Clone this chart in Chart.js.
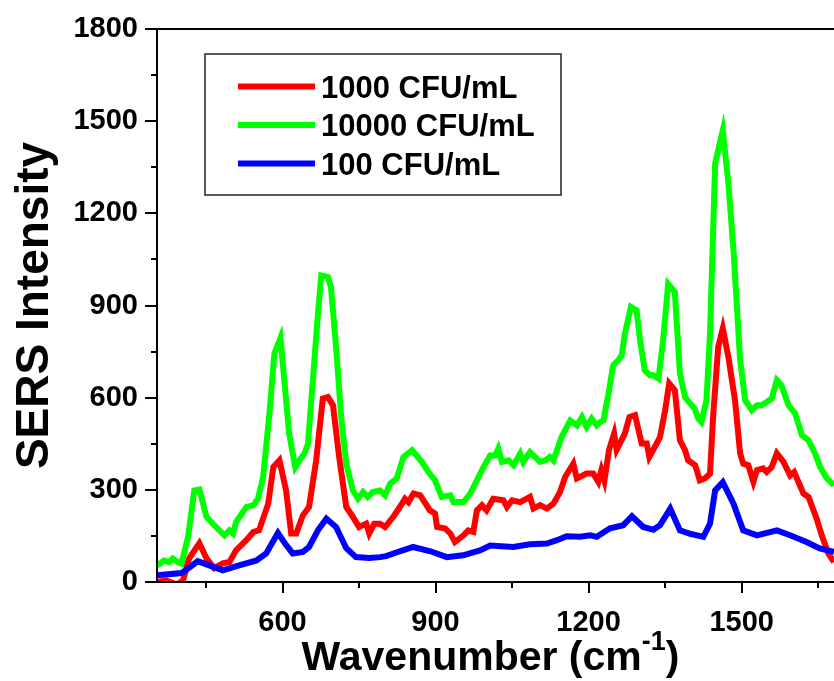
<!DOCTYPE html>
<html>
<head>
<meta charset="utf-8">
<script src="https://cdn.jsdelivr.net/npm/chart.js@4.4.1/dist/chart.umd.min.js"></script>
<style>
    html, body { margin: 0; padding: 0; background: #fff; overflow: hidden; }
    #chart { display: block; }
</style>
</head>
<body>
<canvas id="chart" width="834" height="681"></canvas>
<script>
// --- DATA ---

const FONT = '"Liberation Sans", Arial, sans-serif';

const LABEL_1000 = '1000 CFU/mL';
const LABEL_10000 = '10000 CFU/mL';
const LABEL_100 = '100 CFU/mL';

const wn1000 = [354, 372, 392, 405, 417, 437, 451, 466, 483, 496, 509, 529, 543, 554, 572, 582, 594, 607, 617, 627, 640, 652, 666, 679, 689, 699, 711, 725, 738, 750, 764, 770, 780, 791, 801, 817, 830, 840, 847, 857, 870, 889, 899, 903, 919, 929, 938, 955, 964, 974, 981, 991, 1000, 1013, 1033, 1040, 1050, 1066, 1085, 1092, 1105, 1118, 1131, 1144, 1154, 1170, 1177, 1196, 1209, 1219, 1225, 1231, 1240, 1250, 1255, 1271, 1280, 1291, 1304, 1314, 1319, 1330, 1340, 1350, 1358, 1369, 1379, 1389, 1395, 1409, 1418, 1428, 1438, 1444, 1454, 1463, 1474, 1487, 1497, 1503, 1513, 1523, 1530, 1542, 1549, 1559, 1569, 1582, 1595, 1603, 1621, 1631, 1647, 1657, 1670, 1681];
const int1000 = [0, 5, -8, 5, 77, 126, 77, 45, 61, 65, 103, 136, 163, 168, 255, 374, 396, 298, 158, 158, 217, 244, 396, 597, 602, 575, 407, 244, 212, 179, 190, 158, 190, 190, 179, 212, 244, 271, 260, 288, 282, 233, 223, 179, 174, 158, 130, 152, 168, 163, 233, 250, 233, 271, 266, 244, 266, 260, 277, 239, 250, 239, 255, 293, 342, 385, 337, 353, 353, 326, 364, 330, 430, 483, 430, 483, 537, 543, 451, 451, 407, 440, 472, 559, 646, 624, 461, 429, 396, 380, 331, 337, 353, 537, 765, 825, 732, 591, 419, 385, 380, 326, 364, 370, 358, 374, 419, 391, 347, 358, 288, 277, 206, 152, 92, 65];

const wn10000 = [354, 368, 378, 385, 395, 402, 415, 427, 437, 451, 466, 486, 496, 503, 509, 529, 543, 552, 562, 575, 584, 596, 603, 613, 625, 633, 643, 650, 660, 669, 676, 689, 695, 705, 715, 725, 738, 748, 758, 767, 777, 791, 801, 811, 824, 837, 854, 873, 886, 899, 912, 929, 935, 955, 968, 981, 994, 1007, 1017, 1023, 1030, 1043, 1053, 1066, 1072, 1085, 1105, 1115, 1124, 1131, 1138, 1147, 1164, 1177, 1187, 1196, 1206, 1216, 1223, 1229, 1239, 1248, 1258, 1265, 1271, 1283, 1294, 1301, 1310, 1320, 1327, 1337, 1346, 1356, 1369, 1379, 1389, 1402, 1408, 1415, 1421, 1431, 1438, 1448, 1463, 1474, 1484, 1497, 1507, 1520, 1530, 1539, 1549, 1559, 1569, 1578, 1592, 1605, 1618, 1631, 1644, 1654, 1667, 1681];
const int10000 = [54, 70, 65, 76, 65, 60, 147, 298, 301, 212, 185, 152, 168, 158, 195, 244, 250, 271, 342, 559, 743, 795, 667, 483, 374, 396, 418, 450, 667, 863, 998, 993, 960, 765, 537, 385, 298, 271, 293, 277, 293, 298, 282, 320, 337, 407, 429, 391, 358, 331, 277, 282, 260, 260, 288, 331, 374, 412, 412, 434, 391, 396, 380, 418, 391, 423, 391, 396, 407, 396, 429, 472, 526, 510, 537, 505, 532, 510, 521, 526, 613, 705, 722, 738, 808, 895, 884, 786, 689, 673, 673, 662, 786, 970, 944, 678, 602, 575, 564, 532, 521, 591, 808, 1362, 1470, 1297, 1080, 722, 591, 559, 575, 575, 586, 597, 657, 640, 575, 548, 478, 461, 418, 374, 337, 315];

const wn100 = [354, 402, 420, 434, 455, 483, 515, 549, 568, 591, 605, 620, 640, 652, 670, 686, 705, 725, 744, 770, 791, 803, 830, 856, 890, 922, 954, 987, 1007, 1052, 1085, 1118, 1138, 1157, 1183, 1203, 1216, 1242, 1268, 1285, 1307, 1327, 1340, 1360, 1379, 1399, 1425, 1438, 1448, 1463, 1484, 1503, 1530, 1569, 1595, 1627, 1653, 1681];
const int100 = [22, 29, 50, 68, 55, 38, 54, 70, 93, 160, 125, 93, 98, 114, 170, 206, 179, 110, 81, 78, 81, 84, 100, 114, 100, 81, 87, 103, 119, 114, 123, 125, 136, 149, 147, 152, 147, 175, 185, 214, 179, 170, 185, 239, 168, 157, 147, 190, 298, 325, 255, 168, 152, 168, 152, 130, 109, 98];

// axis ticks: every tick gets a mark, only the major ones get a label
const X_TICKS = [450, 600, 750, 900, 1050, 1200, 1350, 1500, 1650];
const X_LABELS = [600, 900, 1200, 1500];
const Y_TICKS = [0, 150, 300, 450, 600, 750, 900, 1050, 1200, 1350, 1500, 1650, 1800];
const Y_LABELS = [0, 300, 600, 900, 1200, 1500, 1800];

const toPoints = (xs, ys) => xs.map((x, i) => ({ x, y: ys[i] }));

// --- PLUGIN: frame, tick marks, x title, boxed legend ---

const figureDecor = {
    id: 'figureDecor',
    afterDraw(chart) {
        const { ctx, chartArea: area, scales: { x, y } } = chart;
        ctx.save();

        // top frame line (right side is cut off in the original)
        ctx.strokeStyle = '#000';
        ctx.lineWidth = 2;
        ctx.beginPath();
        ctx.moveTo(area.left - 1, area.top);
        ctx.lineTo(area.right, area.top);
        ctx.stroke();

        // outward tick marks
        ctx.beginPath();
        X_TICKS.forEach(v => {
            const px = Math.round(x.getPixelForValue(v));
            const len = X_LABELS.includes(v) ? 11 : 6;
            ctx.moveTo(px, area.bottom);
            ctx.lineTo(px, area.bottom + len);
        });
        Y_TICKS.forEach(v => {
            const py = Math.round(y.getPixelForValue(v));
            const len = Y_LABELS.includes(v) ? 12 : 6;
            ctx.moveTo(area.left, py);
            ctx.lineTo(area.left - len, py);
        });
        ctx.stroke();

        // x axis title with superscript
        const main = 'Wavenumber (cm', sup = '-1', close = ')';
        ctx.fillStyle = '#000';
        ctx.textBaseline = 'alphabetic';
        ctx.textAlign = 'left';
        ctx.font = `bold 41px ${FONT}`;
        const wMain = ctx.measureText(main).width;
        const wClose = ctx.measureText(close).width;
        ctx.font = `bold 27px ${FONT}`;
        const wSup = ctx.measureText(sup).width;
        const cx = (area.left + area.right) / 2 - 5;
        const base = area.bottom + 88;
        let tx = cx - (wMain + wSup + wClose) / 2;
        ctx.font = `bold 41px ${FONT}`;
        ctx.fillText(main, tx, base);
        tx += wMain;
        ctx.font = `bold 27px ${FONT}`;
        ctx.fillText(sup, tx, base - 20);
        tx += wSup;
        ctx.font = `bold 41px ${FONT}`;
        ctx.fillText(close, tx, base);

        // legend box inside the plot
        const boxL = area.left + 48, boxT = area.top + 25;
        const boxW = 356, boxH = 141;
        ctx.fillStyle = '#fff';
        ctx.fillRect(boxL, boxT, boxW, boxH);
        ctx.strokeStyle = '#222';
        ctx.lineWidth = 1.5;
        ctx.strokeRect(boxL, boxT, boxW, boxH);

        ctx.font = `bold 31px ${FONT}`;
        chart.data.datasets.forEach((ds, i) => {
            const rowY = boxT + 32.5 + i * 38.5;
            ctx.strokeStyle = ds.borderColor;
            ctx.lineWidth = 6;
            ctx.beginPath();
            ctx.moveTo(boxL + 33, rowY);
            ctx.lineTo(boxL + 110, rowY);
            ctx.stroke();
            ctx.fillStyle = '#000';
            ctx.fillText(ds.label, boxL + 116, rowY + 11);
        });

        ctx.restore();
    }
};

// --- CHART ---

function lineDataset(label, color, xs, ys, order) {
    return {
        label,
        data: toPoints(xs, ys),
        borderColor: color,
        backgroundColor: color,
        borderWidth: 6,
        pointRadius: 0,
        tension: 0,
        fill: false,
        clip: 0,
        order
    };
}

const ctxMain = document.getElementById('chart').getContext('2d');
new Chart(ctxMain, {
    type: 'line',
    data: {
        datasets: [
            lineDataset(LABEL_1000, '#ff0000', wn1000, int1000, 1),
            lineDataset(LABEL_10000, '#00ff00', wn10000, int10000, 2),
            lineDataset(LABEL_100, '#0000ff', wn100, int100, 0)
        ]
    },
    options: {
        responsive: false,
        animation: false,
        devicePixelRatio: 1,
        layout: { padding: { top: 29, left: 0, right: 0, bottom: 0 } },
        plugins: {
            legend: { display: false },
            tooltip: { enabled: false }
        },
        scales: {
            x: {
                type: 'linear',
                min: 354,
                max: 1681,
                afterBuildTicks: scale => { scale.ticks = X_TICKS.map(value => ({ value })); },
                afterFit: scale => {
                    scale.height = 99;
                    scale.paddingLeft = 0;
                    scale.paddingRight = 0;
                },
                grid: { display: false, drawTicks: false },
                border: { display: true, color: '#000', width: 2, z: 1 },
                ticks: {
                    autoSkip: false,
                    maxRotation: 0,
                    minRotation: 0,
                    padding: 24,
                    color: '#000',
                    font: { family: FONT, size: 29, weight: 'bold' },
                    callback: v => X_LABELS.includes(v) ? String(v) : ''
                }
            },
            y: {
                type: 'linear',
                min: 0,
                max: 1800,
                afterBuildTicks: scale => { scale.ticks = Y_TICKS.map(value => ({ value })); },
                afterFit: scale => {
                    scale.width = 157;
                    scale.paddingTop = 0;
                    scale.paddingBottom = 0;
                },
                grid: { display: false, drawTicks: false },
                border: { display: true, color: '#000', width: 2, z: 1 },
                ticks: {
                    autoSkip: false,
                    padding: 19,
                    color: '#000',
                    font: { family: FONT, size: 29, weight: 'bold' },
                    callback: v => Y_LABELS.includes(v) ? String(v) : ''
                },
                title: {
                    display: true,
                    text: 'SERS Intensity',
                    color: '#000',
                    font: { family: FONT, size: 46, weight: 'bold' },
                    padding: { top: 8, bottom: 0 }
                }
            }
        }
    },
    plugins: [figureDecor]
});
</script>
</body>
</html>
